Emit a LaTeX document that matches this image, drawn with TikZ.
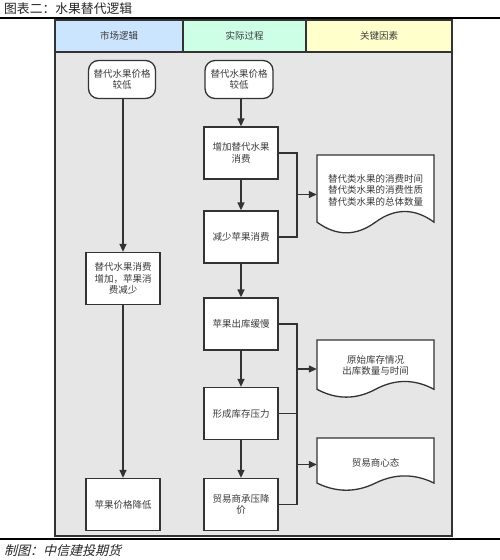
\documentclass[tikz,border=0pt]{standalone}
\usepackage{fontspec}
\setmainfont{Noto Sans CJK SC}
\newfontfamily\cjkit[FakeSlant=0.25]{Noto Sans CJK SC}
\usetikzlibrary{arrows.meta}
\definecolor{linec}{HTML}{333333}
\definecolor{txtc}{HTML}{3A3A3A}
\definecolor{hblue}{HTML}{CCE5FF}
\definecolor{hgreen}{HTML}{CCFFE6}
\definecolor{hyellow}{HTML}{FFFFCC}
\definecolor{bodyg}{HTML}{E6E6E6}
\tikzset{
  boxtext/.style={font=\fontsize{9.5}{11.5}\selectfont, text=txtc, align=center},
  stepbox/.style={boxtext, draw=linec, fill=white, line width=1.3pt, minimum width=74pt, minimum height=52pt, inner sep=1pt},
  termbox/.style={stepbox, rounded corners=10pt, minimum width=67pt, minimum height=38pt},
  docnode/.style={boxtext, inner sep=0pt},
  hdrbox/.style={boxtext, draw=linec, line width=1.3pt, minimum height=32pt, inner sep=0pt},
  conn/.style={draw=linec, line width=1.3pt},
  arr/.style={conn, -{Triangle[length=8pt,width=7pt]}},
  rule/.style={draw=black, line width=2pt},
}
\newcommand\docshape[3]{% #1 top-left, #2 width, #3 height
  \begin{scope}[shift={(#1)}]
    \pgfmathsetmacro\dw{#2}
    \pgfmathsetmacro\dh{#3}
    \pgfmathsetmacro\dd{0.3*#3}
    \draw[conn, fill=white] (0,0) -- (\dw,0) -- (\dw,{\dh-\dd/2})
      .. controls ({\dw*5/6},{\dh-\dd/2-2/3*0.9*\dd}) and ({\dw*2/3},{\dh-\dd/2-2/3*0.9*\dd}) .. ({\dw/2},{\dh-\dd/2})
      .. controls ({\dw/3},{\dh-\dd/2+2/3*0.9*\dd}) and ({\dw/6},{\dh-\dd/2+2/3*0.9*\dd}) .. (0,{\dh-\dd/2})
      -- cycle;
  \end{scope}
}
\begin{document}
\begin{tikzpicture}[x=1pt,y=-1pt]
\useasboundingbox (0,0) rectangle (500,560);
\fill[white] (0,0) rectangle (500,560);

% title and rules
\node[anchor=west, inner sep=0pt, font=\fontsize{12.8}{14}\selectfont, text=black!85] (title) at (4,8.5) {图表二：水果替代逻辑};
\coordinate (rtl) at (0,17.5);
\coordinate (rtr) at (500,17.5);
\draw[rule] (rtl) -- (rtr);
\coordinate (rbl) at (0,539);
\coordinate (rbr) at (500,539);
\draw[rule] (rbl) -- (rbr);
\node[anchor=west, inner sep=0pt, font=\cjkit\fontsize{13}{14}\selectfont, text=black!85] (foot) at (4,550.5) {制图：中信建投期货};

% swimlane
\node[draw=linec, fill=bodyg, line width=1.3pt, minimum width=397pt, minimum height=484pt, inner sep=0pt] (body) at (253.5,294) {};
\node[hdrbox, fill=hblue, minimum width=128pt] (h1) at (119,36) {市场逻辑};
\node[hdrbox, fill=hgreen, minimum width=123pt] (h2) at (244.5,36) {实际过程};
\node[hdrbox, fill=hyellow, minimum width=146pt] (h3) at (379,36) {关键因素};

% left column
\node[termbox] (t1) at (122,79.5) {替代水果价格\\较低};
\node[stepbox] (l1) at (123,278.5) {替代水果消费\\增加，苹果消\\费减少};
\node[stepbox] (l2) at (123,504.5) {苹果价格降低};

% middle column
\node[termbox, minimum width=68pt] (t2) at (239,79.5) {替代水果价格\\较低};
\node[stepbox] (b1) at (241,153) {增加替代水果\\消费};
\node[stepbox] (b2) at (241,237) {减少苹果消费};
\node[stepbox] (b3) at (241,324) {苹果出库缓慢};
\node[stepbox] (b4) at (241,413.5) {形成库存压力};
\node[stepbox] (b5) at (241,504.5) {贸易商承压降\\价};

% documents
\docshape{317,155}{117}{79}
\node[docnode, minimum width=117pt, minimum height=79pt] (d1) at (375.5,194.5) {};
\node[boxtext, inner sep=0pt] (d1t) at (375.5,190) {替代类水果的消费时间\\替代类水果的消费性质\\替代类水果的总体数量};
\docshape{317,340}{117}{58}
\node[docnode, minimum width=117pt, minimum height=58pt] (d2) at (375.5,369) {};
\node[boxtext, inner sep=0pt] (d2t) at (375.5,365.5) {原始库存情况\\出库数量与时间};
\docshape{317,438}{117}{53}
\node[docnode, minimum width=117pt, minimum height=53pt] (d3) at (375.5,464.5) {};
\node[boxtext, inner sep=0pt] (d3t) at (375.5,463) {贸易商心态};

% vertical arrows
\draw[arr] (t1.south -| l1) -- (l1.north);
\draw[arr] (l1) -- (l2);
\draw[arr] (t2.south -| b1) -- (b1.north);
\draw[arr] (b1) -- (b2);
\draw[arr] (b2) -- (b3);
\draw[arr] (b3) -- (b4);
\draw[arr] (b4) -- (b5);

% junctions to documents
\coordinate (j1) at (297,194.5);
\coordinate (j2) at (297,369);
\coordinate (j3) at (297,464.5);
\draw[conn] (b1.east) -| (j1);
\draw[conn] (b2.east) -| (j1);
\draw[arr] (j1) -- (d1.west);
\draw[conn] (b3.east) -| (j2);
\draw[conn] (b4.east) -| (j2);
\draw[arr] (j2) -- (d2.west);
\draw[conn] (b4.east) -| (j3);
\draw[conn] (b5.east) -| (j3);
\draw[arr] (j3) -- (d3.west);
\end{tikzpicture}
\end{document}
